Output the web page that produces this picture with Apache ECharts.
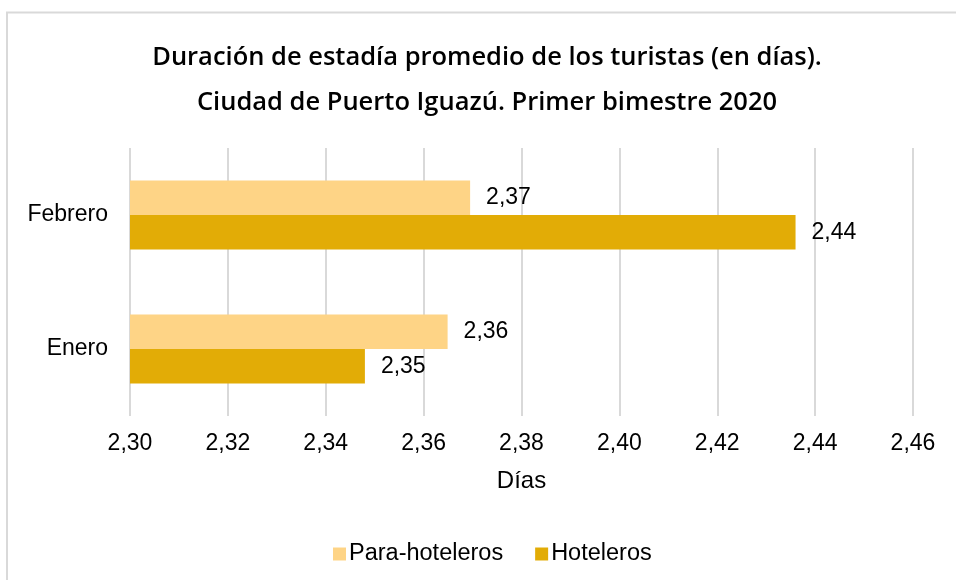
<!DOCTYPE html>
<html>
<head>
<meta charset="utf-8">
<script src="https://cdn.jsdelivr.net/npm/echarts@6/dist/echarts.min.js"></script>
<style>html,body{margin:0;padding:0;background:#fff}#c{width:956px;height:580px}</style>
</head>
<body>
<div id="c"></div>
<script>
var categories = ['Enero', 'Febrero'];
var paraHoteleros = [2.3649, 2.3695];
var hoteleros = [2.348, 2.436];
var seriesNames = ['Para-hoteleros', 'Hoteleros'];
var xTicks = {min: 2.30, max: 2.46, interval: 0.02};
var titleLines = ['Duración de estadía promedio de los turistas (en días).', 'Ciudad de Puerto Iguazú. Primer bimestre 2020'];
var axisName = 'Días';

var fmt = function (v) { return v.toFixed(2).replace('.', ','); };
var chart = echarts.init(document.getElementById('c'));
var labelStyle = {show: true, position: 'right', distance: 16, color: '#000', fontSize: 23, fontFamily: 'Liberation Sans', formatter: function (p) { return fmt(p.value); }};
chart.setOption({
  animation: false,
  graphic: [{type: 'rect', shape: {x: 7, y: 12.5, width: 1000, height: 1000}, style: {fill: 'none', stroke: '#d9d9d9', lineWidth: 2}}],
  title: {
    text: titleLines.join('\n'),
    left: 482, top: 30, textAlign: 'center',
    textStyle: {fontFamily: 'Open Sans', fontWeight: 600, fontSize: 25.5, lineHeight: 45, color: '#000'}
  },
  legend: {
    data: seriesNames, top: 537, left: 328,
    itemWidth: 13, itemHeight: 13, itemGap: 32, icon: 'rect',
    textStyle: {fontFamily: 'Liberation Sans', fontSize: 23.5, color: '#000', padding: [0, 0, 0, -2]}
  },
  grid: {left: 130, right: 43, top: 148, bottom: 164, containLabel: false},
  xAxis: {
    type: 'value', min: xTicks.min, max: xTicks.max, interval: xTicks.interval,
    name: axisName, nameLocation: 'middle', nameGap: 53,
    nameTextStyle: {fontFamily: 'Liberation Sans', fontSize: 24, color: '#000'},
    axisLine: {show: false}, axisTick: {show: false},
    axisLabel: {fontFamily: 'Liberation Sans', fontSize: 23, color: '#000', margin: 16, formatter: fmt},
    splitLine: {lineStyle: {color: '#d9d9d9', width: 2}}
  },
  yAxis: {
    type: 'category', data: categories,
    axisLine: {show: false}, axisTick: {show: false},
    axisLabel: {fontFamily: 'Liberation Sans', fontSize: 23, color: '#000', margin: 22}
  },
  series: [
    {name: seriesNames[0], type: 'bar', data: paraHoteleros, itemStyle: {color: '#fed486'}, barGap: '0%', barCategoryGap: '48.5%', label: labelStyle},
    {name: seriesNames[1], type: 'bar', data: hoteleros, itemStyle: {color: '#e2ac06'}, barGap: '0%', barCategoryGap: '48.5%', label: labelStyle}
  ]
});
</script>
</body>
</html>
